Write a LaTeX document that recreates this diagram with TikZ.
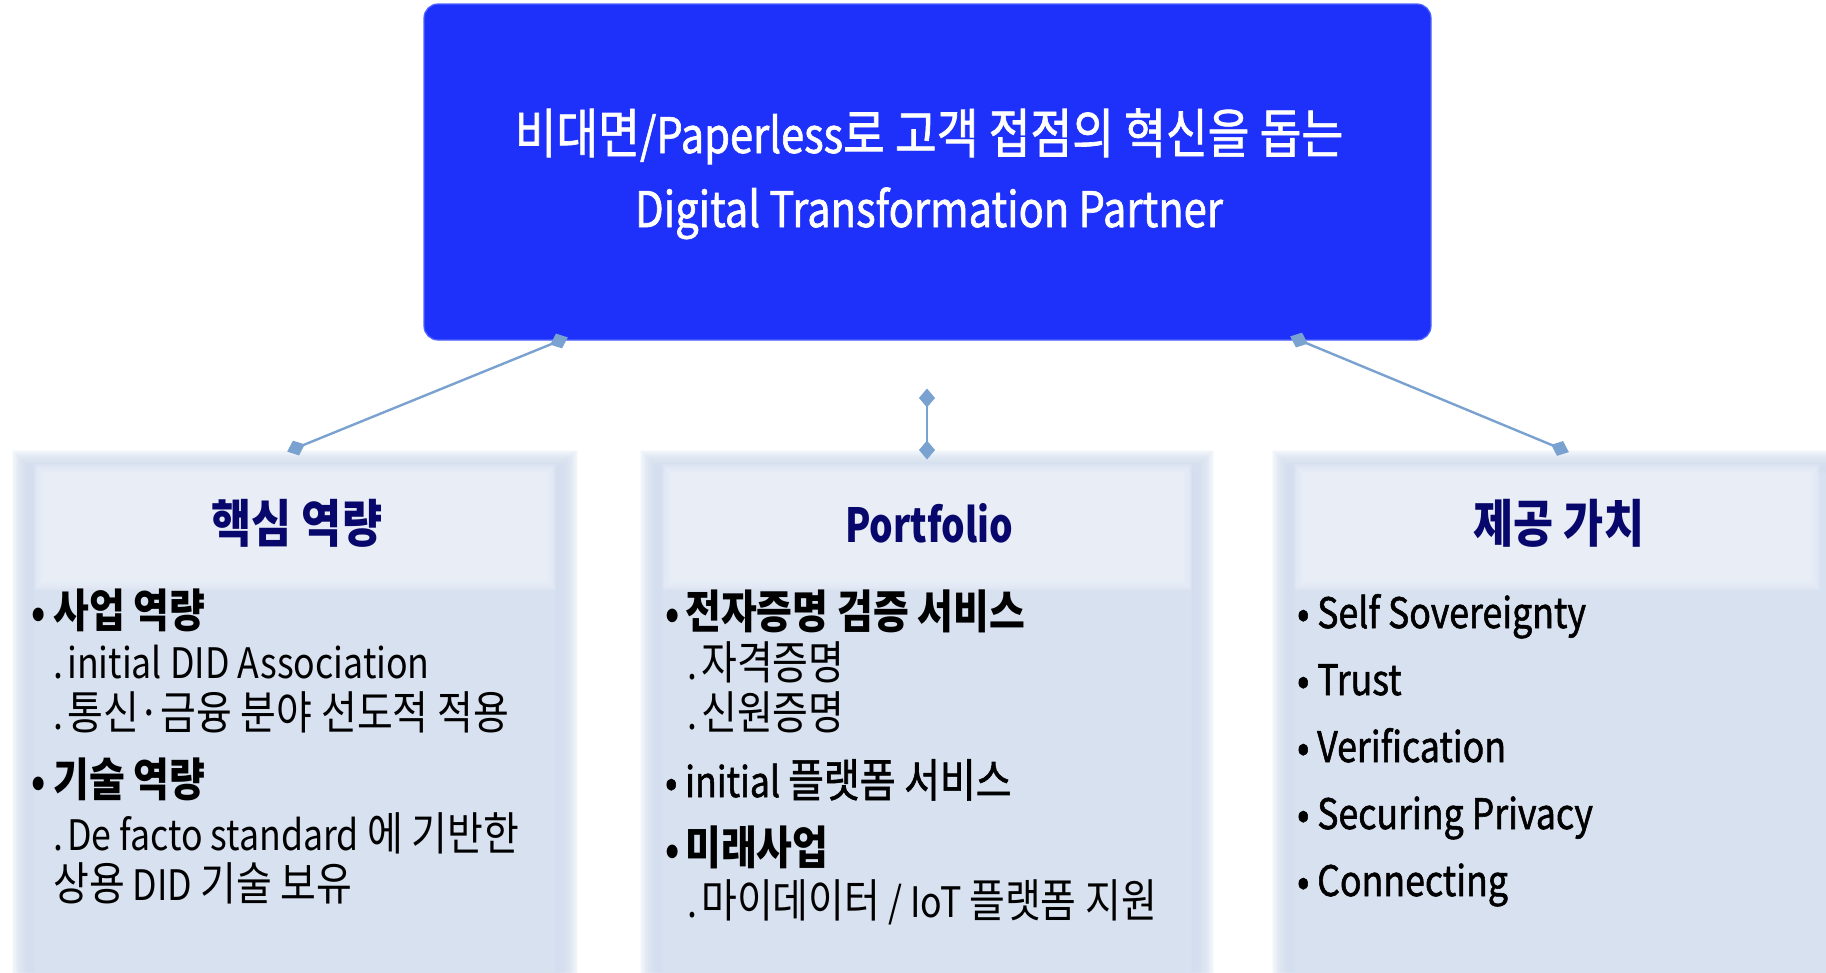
\documentclass[tikz,border=0pt]{standalone}
\usepackage{fontspec}
\setmainfont{Noto Sans CJK KR}[FakeStretch=0.85]
\newfontfamily\kofont{Noto Sans CJK KR}[FakeStretch=0.85, Scale=1.09]
\newfontfamily\medfont{Noto Sans CJK KR}[FakeStretch=0.85, FakeBold=1.3]
\newfontfamily\kofontm{Noto Sans CJK KR}[FakeStretch=0.85, Scale=1.09, FakeBold=1.3]
\newfontfamily\titlelat{Noto Sans CJK KR}[FakeStretch=0.79]
\newcommand\K[1]{{\kofont #1}}
\newcommand\Km[1]{{\kofontm #1}}
\usetikzlibrary{arrows.meta}
\definecolor{boxblue}{RGB}{30,49,250}
\definecolor{boxedge}{RGB}{80,100,255}
\definecolor{connC}{RGB}{122,162,208}
\definecolor{panelC}{RGB}{220,229,242}
\definecolor{panelEdge}{RGB}{212,222,239}
\definecolor{headC}{RGB}{236,241,250}
\definecolor{navy}{RGB}{8,8,108}
\newcommand\softrect[8]{% x1 y1 x2 y2 color steps stepsize opacity (open bottom)
  \foreach \k in {0,...,#6}{%
    \fill[#5, fill opacity=#8] ({#1+\k*#7},{#2+\k*#7}) rectangle ({#3-\k*#7},{#4});
  }}
\newcommand\softbox[8]{% x1 y1 x2 y2 color steps stepsize opacity (closed)
  \foreach \k in {0,...,#6}{%
    \fill[#5, fill opacity=#8] ({#1+\k*#7},{#2+\k*#7}) rectangle ({#3-\k*#7},{#4-\k*#7});
  }}
\begin{document}
\begin{tikzpicture}[x=1pt,y=-1pt,
  topbox/.style={fill=boxblue, draw=boxedge, line width=1.2pt, rounded corners=14pt, inner sep=0pt},
  toptext/.style={text=white, font=\fontsize{49}{49}\medfont, anchor=base, inner sep=0pt},
  title/.style={text=navy, font=\fontsize{47}{47}\selectfont\bfseries, anchor=base, inner sep=0pt},
  body/.style={text=black, font=\fontsize{42}{42}\selectfont, anchor=base west, inner sep=0pt},
  bodyb/.style={body, font=\fontsize{42}{42}\selectfont\bfseries},
  bodym/.style={body, font=\fontsize{42}{42}\medfont},
  conn/.style={draw=connC, line width=2.4pt, {Diamond[length=19pt,width=16pt]}-{Diamond[length=19pt,width=16pt]}}
]
\useasboundingbox (0,0) rectangle (1826,972);
\fill[white] (0,0) rectangle (1826,972);

% ---- panels (soft edges) ----
\softrect{12}{450}{578}{990}{panelEdge}{20}{1.2}{0.15}
\softrect{34}{472}{556}{990}{panelC}{8}{1.2}{0.2}
\softbox{34}{464}{556}{590}{headC}{12}{1.1}{0.2}

\softrect{640}{450}{1214}{990}{panelEdge}{20}{1.2}{0.15}
\softrect{662}{472}{1192}{990}{panelC}{8}{1.2}{0.2}
\softbox{662}{464}{1192}{590}{headC}{12}{1.1}{0.2}

\softrect{1272}{450}{1880}{990}{panelEdge}{20}{1.2}{0.15}
\softrect{1294}{472}{1860}{990}{panelC}{8}{1.2}{0.2}
\softbox{1294}{464}{1820}{590}{headC}{12}{1.1}{0.2}

% ---- top box ----
\node[topbox, minimum width=1007pt, minimum height=336pt] (top) at (927.5,172) {};
\node[toptext] (t1) at (929,153) {\Km{비대면}/Paperless\Km{로 고객 접점의 혁신을 돕는}};
\node[toptext] (t2) at (929,227) {Digital Transformation Partner};

% ---- titles ----
\node[title] (h1) at (297,542) {\K{핵심 역량}};
\node[title] (h2) at (929,542) {\titlelat Portfolio};
\node[title] (h3) at (1559,542) {\K{제공 가치}};

% ---- left panel ----
\node[bodyb] (l1) at (31,627) {\makebox[22pt][l]{•}\K{사업 역량}};
\node[body] (l2) at (53,678) {\makebox[14pt][l]{.}initial DID Association};
\node[body] (l3) at (53,729) {\makebox[14pt][l]{.}\K{통신·금융 분야 선도적 적용}};
\node[bodyb] (l4) at (31,796) {\makebox[22pt][l]{•}\K{기술 역량}};
\node[body] (l5) at (53,850) {\makebox[14pt][l]{.}De facto standard \K{에 기반한}};
\node[body] (l6) at (53,900) {\K{상용} DID \K{기술 보유}};

% ---- middle panel ----
\node[bodyb] (m1) at (665,628) {\makebox[20pt][l]{•}\K{전자증명 검증 서비스}};
\node[body] (m2) at (687,679) {\makebox[14pt][l]{.}\K{자격증명}};
\node[body] (m3) at (687,729) {\makebox[14pt][l]{.}\K{신원증명}};
\node[bodym] (m4) at (665,797) {\makebox[20pt][l]{•}initial \Km{플랫폼 서비스}};
\node[bodyb] (m5) at (665,864) {\makebox[20pt][l]{•}\K{미래사업}};
\node[body] (m6) at (687,917) {\makebox[14pt][l]{.}\K{마이데이터} / IoT \K{플랫폼 지원}};

% ---- right panel ----
\node[bodym] (r1) at (1297,628) {\makebox[20pt][l]{•}Self Sovereignty};
\node[bodym] (r2) at (1297,695) {\makebox[20pt][l]{•}Trust};
\node[bodym] (r3) at (1297,762) {\makebox[20pt][l]{•}Verification};
\node[bodym] (r4) at (1297,829) {\makebox[20pt][l]{•}Securing Privacy};
\node[bodym] (r5) at (1297,896) {\makebox[20pt][l]{•}Connecting};

% ---- connectors ----
\coordinate (a1) at (567.8,337.4);
\coordinate (b1) at (287.2,451.6);
\coordinate (a2) at (927,388.5);
\coordinate (b2) at (927,459.5);
\coordinate (a3) at (1290.2,336.4);
\coordinate (b3) at (1568.8,452.1);
\draw[conn] (a1) -- (b1);
\draw[conn] (a2) -- (b2);
\draw[conn] (a3) -- (b3);
\end{tikzpicture}
\end{document}
